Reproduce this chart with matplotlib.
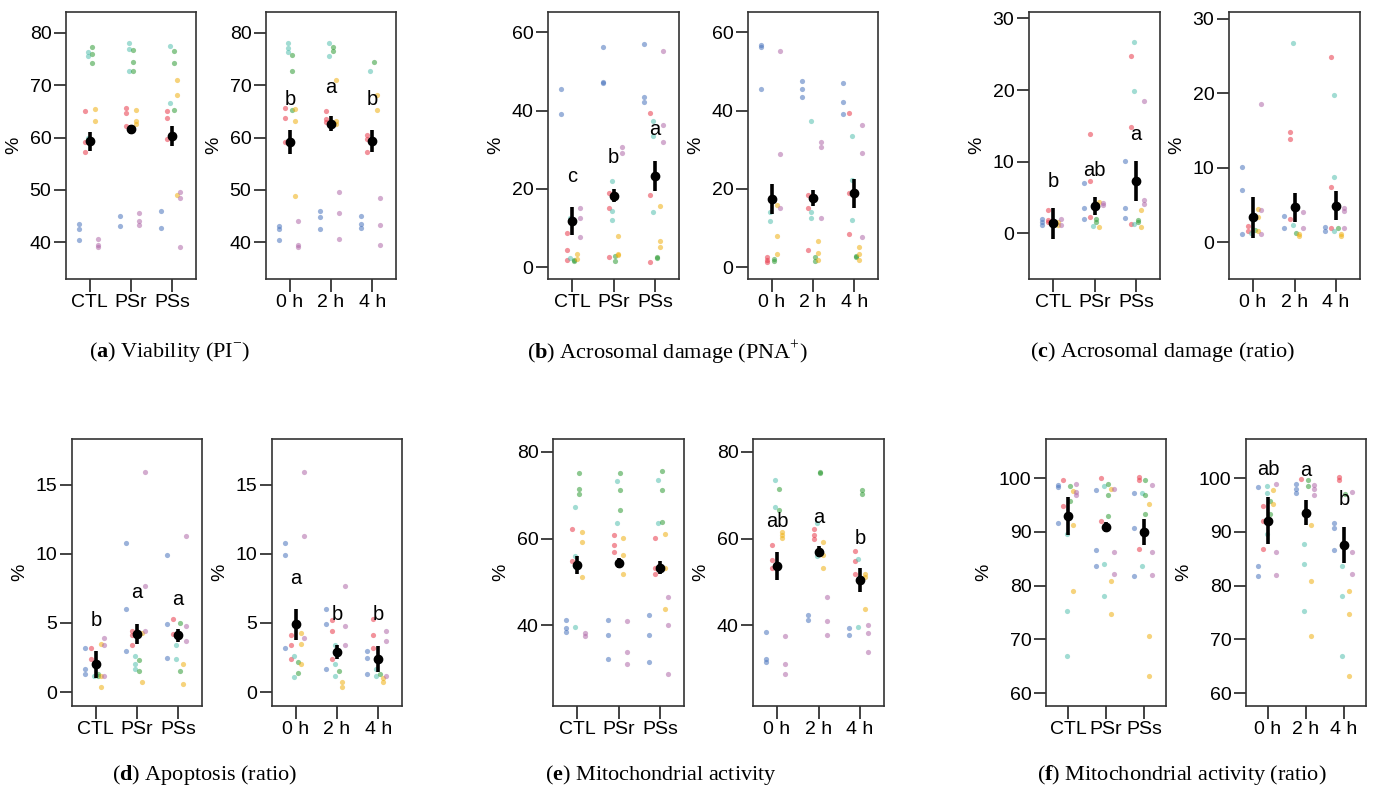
import matplotlib.pyplot as plt

plt.rcParams['font.family'] = ['Liberation Sans', 'DejaVu Sans']
plt.rcParams['mathtext.fontset'] = 'custom'
plt.rcParams['mathtext.rm'] = 'Liberation Serif'
plt.rcParams['mathtext.bf'] = 'Liberation Serif:bold'

trt_labels = ['CTL', 'PSr', 'PSs']
time_labels = ['0 h', '2 h', '4 h']

# one colour per boar, points per group (3 groups)
via_trt_pts = {
    'blue':   [[43.6, 42.5, 40.4], [45.0, 43.2], [45.9, 42.8]],
    'red':    [[65.0, 59.1, 57.3], [65.7, 64.8, 62.2], [65.0, 63.7, 59.7]],
    'teal':   [[76.3, 75.6, 60.0], [78.0, 76.9, 72.7], [77.6, 66.6]],
    'green':  [[77.4, 75.9, 74.3], [76.8, 74.5, 72.7], [76.6, 74.3, 65.2]],
    'yellow': [[65.5, 63.2], [65.3, 63.2, 62.6], [71.1, 68.2, 49.0]],
    'purple': [[40.6, 39.4, 39.2], [45.7, 44.1, 43.3], [49.7, 48.5, 39.2]],
}
via_trt_mean = [59.3, 61.6, 60.4]
via_trt_err = [1.8, 0.9, 1.9]

via_time_pts = {
    'blue':   [[43.1, 42.6, 40.4], [45.9, 44.9, 42.5], [45.0, 43.5, 42.8]],
    'red':    [[65.7, 63.7, 59.1], [65.0, 63.5, 63.0], [60.5, 59.7, 57.3]],
    'teal':   [[78.0, 77.1, 76.4], [78.0, 75.6], [72.7]],
    'green':  [[75.8, 72.7, 65.2], [77.4, 76.6], [74.4]],
    'yellow': [[65.5, 63.2, 48.9], [71.1, 63.2, 62.6], [68.2, 65.3]],
    'purple': [[44.0, 39.5, 39.2], [49.7, 45.7, 40.6], [48.5, 43.3, 39.4]],
}
via_time_mean = [59.2, 62.7, 59.4]
via_time_err = [2.3, 1.35, 2.1]
via_time_let = ['b', 'a', 'b']
via_time_let_y = [67.2, 69.6, 67.2]

acr_trt_pts = {
    'blue':   [[45.6, 39.1], [56.3, 47.4, 47.1], [56.9, 43.5, 42.1]],
    'red':    [[8.7, 4.3, 1.9], [18.9, 15.2, 2.5], [39.5, 18.5, 1.4]],
    'teal':   [[12.5, 2.3], [22.1, 14.4, 12.1], [37.4, 33.4, 14.2]],
    'green':  [[1.9, 1.6], [2.9, 1.7], [2.6, 2.3]],
    'yellow': [[3.4, 2.0], [8.1, 3.4, 3.1], [15.7, 6.8, 5.3]],
    'purple': [[15.2, 12.7, 7.8], [30.6, 29.1], [55.2, 36.3, 32.1]],
}
acr_trt_mean = [11.8, 18.3, 23.3]
acr_trt_err = [3.6, 1.7, 3.85]
acr_trt_let = ['c', 'b', 'a']
acr_trt_let_y = [23.1, 28.0, 35.1]

acr_time_pts = {
    'blue':   [[56.8, 56.3, 45.6], [47.6, 45.5, 43.4], [47.1, 42.1, 39.1]],
    'red':    [[2.6, 1.9, 1.4], [18.5, 15.2, 4.3], [39.5, 18.9, 8.5]],
    'teal':   [[14.0, 11.9], [37.4, 14.0, 12.7], [33.4, 22.3, 12.1]],
    'green':  [[2.2, 1.7], [2.6, 1.6], [2.9, 2.6]],
    'yellow': [[15.9, 8.1, 3.4], [6.7, 3.6, 1.9], [5.3, 3.4, 1.9]],
    'purple': [[55.2, 28.9, 15.2], [32.1, 30.6, 12.5], [36.3, 29.1, 7.8]],
}
acr_time_mean = [17.4, 17.7, 18.9]
acr_time_err = [3.85, 2.0, 3.65]

acrr_trt_pts = {
    'blue':   [[2.0, 1.5, 1.1], [7.0, 3.5, 2.0], [10.1, 3.5, 2.1]],
    'red':    [[3.2, 1.8, 1.5], [13.9, 7.3, 2.2], [24.7, 14.9, 1.3]],
    'teal':   [[1.5], [1.0], [26.7, 19.8, 1.3]],
    'green':  [[1.4, 1.3], [2.0, 1.5], [1.9, 1.5]],
    'yellow': [[1.5, 1.2], [4.3, 0.8], [3.3, 0.9]],
    'purple': [[2.0, 1.1], [4.2, 4.0], [18.5, 4.7, 4.1]],
}
acrr_trt_mean = [1.4, 3.8, 7.3]
acrr_trt_err = [2.15, 1.2, 2.85]
acrr_trt_let = ['b', 'ab', 'a']
acrr_trt_let_y = [7.2, 8.7, 13.8]

acrr_time_pts = {
    'blue':   [[10.1, 7.0, 1.2], [3.5, 2.0], [2.1, 1.6]],
    'red':    [[2.2, 1.5], [14.8, 13.9, 3.2], [24.8, 7.5, 1.9]],
    'teal':   [[1.3], [26.8, 2.3], [19.8, 8.8, 1.5]],
    'green':  [[1.7], [1.3], [2.0]],
    'yellow': [[4.5, 3.4, 1.6], [1.2, 0.8], [1.2, 0.8]],
    'purple': [[18.5, 4.3, 1.2], [4.1, 2.0], [4.6, 4.2, 2.0]],
}
acrr_time_mean = [3.4, 4.7, 4.9]
acrr_time_err = [2.75, 1.9, 1.95]

apo_trt_pts = {
    'blue':   [[3.2, 1.7, 1.3], [10.8, 6.0, 3.0], [9.9, 4.9, 2.5]],
    'red':    [[3.2, 2.4], [4.4, 4.1, 3.4], [5.3, 4.2]],
    'teal':   [[1.2], [2.6, 2.0, 1.7], [3.4, 2.4]],
    'green':  [[1.2, 1.3], [2.3, 1.5], [5.0, 1.5]],
    'yellow': [[3.5, 1.2, 0.4], [4.3, 0.7], [2.0, 0.6]],
    'purple': [[3.9, 3.4, 1.2], [15.9, 7.7, 4.4], [11.3, 4.8, 3.7]],
}
apo_trt_mean = [2.0, 4.2, 4.1]
apo_trt_err = [0.95, 0.75, 0.5]
apo_trt_let = ['b', 'a', 'a']
apo_trt_let_y = [5.2, 7.2, 6.7]

apo_time_pts = {
    'blue':   [[10.8, 9.9, 3.2], [6.0, 4.9, 1.7], [3.0, 2.5, 1.3]],
    'red':    [[4.1, 3.4, 2.4], [5.2, 4.4, 2.4], [5.3, 4.1, 3.2]],
    'teal':   [[2.6, 1.1], [3.4, 2.0, 1.2], [1.7, 1.2]],
    'green':  [[2.2, 1.4], [1.5], [1.3]],
    'yellow': [[4.3, 3.5, 2.0], [0.7, 0.4], [1.0, 0.7]],
    'purple': [[15.9, 11.3, 3.9], [7.7, 4.8, 3.4], [4.4, 3.7, 1.2]],
}
apo_time_mean = [4.9, 2.9, 2.4]
apo_time_err = [1.1, 0.5, 0.95]
apo_time_let = ['a', 'b', 'b']
apo_time_let_y = [8.2, 5.6, 5.6]

mito_trt_pts = {
    'blue':   [[41.1, 39.3, 38.3], [41.1, 37.7, 32.1], [42.3, 37.7, 31.5]],
    'red':    [[62.2, 54.8], [60.8, 58.5, 57.0], [60.1, 53.3, 51.9]],
    'teal':   [[67.3, 56.0, 39.6], [73.3, 63.5], [73.5, 63.7]],
    'green':  [[75.1, 71.4, 70.2], [75.1, 71.2, 66.5], [75.5, 71.2, 63.9]],
    'yellow': [[61.6, 59.1, 51.0], [60.1, 56.2, 51.9], [61.0, 53.1, 43.7]],
    'purple': [[38.1, 37.5], [41.0, 33.7, 31.0], [46.4, 40.0, 28.6]],
}
mito_trt_mean = [53.8, 54.4, 53.3]
mito_trt_err = [2.1, 1.1, 1.45]

mito_time_pts = {
    'blue':   [[38.3, 32.1, 31.5], [42.3, 41.1], [39.4, 37.7]],
    'red':    [[58.5, 55.0, 53.3], [62.2, 60.8, 59.8], [57.1, 54.7, 51.9]],
    'teal':   [[73.5, 67.3], [63.5, 56.0], [55.2, 39.6]],
    'green':  [[71.4, 66.5], [75.4, 75.1], [71.2, 70.2]],
    'yellow': [[61.6, 60.8, 60.1], [59.1, 56.2, 53.1], [51.9, 51.0, 43.7]],
    'purple': [[37.4, 31.0, 28.6], [46.4, 41.0, 37.7], [40.0, 38.1, 33.8]],
}
mito_time_mean = [53.7, 57.0, 50.4]
mito_time_err = [3.3, 1.35, 2.7]
mito_time_let = ['ab', 'a', 'b']
mito_time_let_y = [63.9, 64.9, 60.0]

mitor_trt_pts = {
    'blue':   [[98.8, 98.3, 91.6], [97.8, 86.7, 83.7], [97.3, 90.7, 81.8]],
    'red':    [[99.7, 94.9], [100.0, 92.1], [100.2, 99.7, 86.8]],
    'teal':   [[89.6, 75.2, 66.9], [98.6, 84.1, 78.0], [97.3, 83.6]],
    'green':  [[98.6, 95.8], [98.9, 96.9, 92.9], [99.7, 96.9, 93.3]],
    'yellow': [[97.7, 91.2, 79.0], [98.0, 80.9, 74.7], [95.2, 70.7, 63.2]],
    'purple': [[98.9, 97.5, 96.8], [98.0, 86.2, 82.1], [98.8, 86.2, 81.9]],
}
mitor_trt_mean = [92.9, 90.9, 90.0]
mitor_trt_err = [3.55, 1.0, 2.4]

mitor_time_pts = {
    'blue':   [[98.3, 83.7, 81.8], [98.9, 98.0, 97.3], [91.6, 90.7, 86.7]],
    'red':    [[94.9, 92.1, 86.8], [99.8], [100.2, 99.7]],
    'teal':   [[98.6, 97.3, 89.6], [87.7, 84.1, 75.2], [83.6, 78.0, 66.9]],
    'green':  [[95.8, 93.3], [99.7, 98.6], [97.1]],
    'yellow': [[97.8, 95.2], [91.2, 80.9, 70.7], [79.0, 74.7, 63.2]],
    'purple': [[98.9, 86.2, 81.9], [98.8, 98.0, 96.8], [97.5, 86.2, 82.1]],
}
mitor_time_mean = [92.1, 93.6, 87.6]
mitor_time_err = [4.35, 2.35, 3.3]
mitor_time_let = ['ab', 'a', 'b']
mitor_time_let_y = [101.7, 101.4, 96.1]

captions = [r'($\mathbf{a}$) Viability (PI$^{-}$)',
            r'($\mathbf{b}$) Acrosomal damage (PNA$^{+}$)',
            r'($\mathbf{c}$) Acrosomal damage (ratio)',
            r'($\mathbf{d}$) Apoptosis (ratio)',
            r'($\mathbf{e}$) Mitochondrial activity',
            r'($\mathbf{f}$) Mitochondrial activity (ratio)']

colors = {'blue': '#4a74bd', 'red': '#e8394a', 'teal': '#55c0b0',
          'green': '#2f9c35', 'yellow': '#efb010', 'purple': '#b068a8'}
offsets = {'blue': -0.26, 'red': -0.12, 'teal': -0.04,
           'green': 0.04, 'yellow': 0.12, 'purple': 0.2}

W, H = 1381, 794
fig = plt.figure(figsize=(W / 100, H / 100), dpi=100)


def panel(left, top, width, pts, mean, err, xlabels, ylim, yticks,
          let=None, let_y=None):
    ax = fig.add_axes([left / W, 1 - (top + 267) / H, width / W, 267 / H])
    for name, groups in pts.items():
        for i, vals in enumerate(groups):
            ax.scatter([i + offsets[name]] * len(vals), vals, s=14,
                       color=colors[name], alpha=0.55, lw=0, zorder=2)
    ax.errorbar(range(3), mean, yerr=err, fmt='o', color='black', ms=6,
                elinewidth=2.6, capsize=0, zorder=3)
    if let:
        for i, (t, y) in enumerate(zip(let, let_y)):
            ax.text(i, y, t, ha='center', va='center', fontsize=14.5, zorder=4)
    ax.set_xlim(-0.58, 2.58)
    ax.set_ylim(*ylim)
    ax.set_xticks(range(3))
    ax.set_xticklabels(xlabels)
    ax.set_yticks(yticks)
    ax.tick_params(length=9, width=1.2, pad=1.5, labelsize=14, color='#222222')
    for sp in ax.spines.values():
        sp.set_linewidth(1.2)
        sp.set_color('#333333')
    ax.set_ylabel('%', fontsize=14, labelpad=5)
    return ax


r1, r2 = 12, 439
panel(66, r1, 130, via_trt_pts, via_trt_mean, via_trt_err, trt_labels,
      (33, 84), [40, 50, 60, 70, 80])
panel(266, r1, 130, via_time_pts, via_time_mean, via_time_err, time_labels,
      (33, 84), [40, 50, 60, 70, 80], via_time_let, via_time_let_y)
panel(548, r1, 131, acr_trt_pts, acr_trt_mean, acr_trt_err, trt_labels,
      (-3, 65.2), [0, 20, 40, 60], acr_trt_let, acr_trt_let_y)
panel(748, r1, 130, acr_time_pts, acr_time_mean, acr_time_err, time_labels,
      (-3, 65.2), [0, 20, 40, 60])
panel(1029, r1, 131, acrr_trt_pts, acrr_trt_mean, acrr_trt_err, trt_labels,
      (-6.4, 30.9), [0, 10, 20, 30], acrr_trt_let, acrr_trt_let_y)
panel(1229, r1, 131, acrr_time_pts, acrr_time_mean, acrr_time_err, time_labels,
      (-4.9, 30.9), [0, 10, 20, 30])

panel(72, r2, 130, apo_trt_pts, apo_trt_mean, apo_trt_err, trt_labels,
      (-1.0, 18.3), [0, 5, 10, 15], apo_trt_let, apo_trt_let_y)
panel(272, r2, 130, apo_time_pts, apo_time_mean, apo_time_err, time_labels,
      (-1.0, 18.3), [0, 5, 10, 15], apo_time_let, apo_time_let_y)
panel(553, r2, 131, mito_trt_pts, mito_trt_mean, mito_trt_err, trt_labels,
      (21.3, 83), [40, 60, 80])
panel(753, r2, 131, mito_time_pts, mito_time_mean, mito_time_err, time_labels,
      (21.3, 83), [40, 60, 80], mito_time_let, mito_time_let_y)
panel(1046, r2, 120, mitor_trt_pts, mitor_trt_mean, mitor_trt_err, trt_labels,
      (57.6, 107.3), [60, 70, 80, 90, 100])
panel(1246, r2, 120, mitor_time_pts, mitor_time_mean, mitor_time_err, time_labels,
      (57.6, 107.3), [60, 70, 80, 90, 100], mitor_time_let, mitor_time_let_y)

cap_xy = [(170, 352), (667, 352), (1162, 352), (205, 775), (661, 775), (1182, 775)]
for txt, (x, y) in zip(captions, cap_xy):
    fig.text(x / W, 1 - y / H, txt, ha='center', va='center', fontsize=16,
             family=['Liberation Serif', 'DejaVu Serif'])

fig.savefig('out.png', dpi=100)
